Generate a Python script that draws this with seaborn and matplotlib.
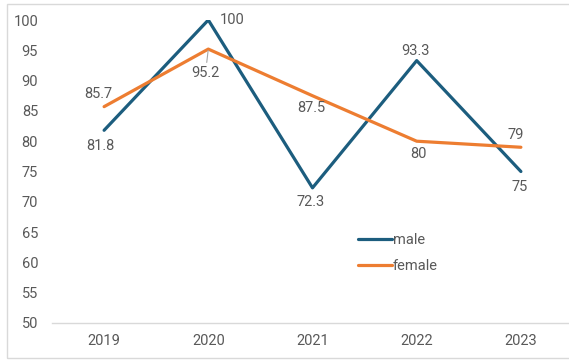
import matplotlib
matplotlib.use("Agg")
import matplotlib.pyplot as plt
from matplotlib.patches import Rectangle
import seaborn as sns
import pandas as pd

years = ["2019", "2020", "2021", "2022", "2023"]
male = [81.8, 100, 72.3, 93.3, 75]
female = [85.7, 95.2, 87.5, 80, 79]
series_names = ["male", "female"]
y_ticks = [50, 55, 60, 65, 70, 75, 80, 85, 90, 95, 100]

colors = {"male": "#1c5d7e", "female": "#ed7d31"}
text_color = "#595959"
font_size = 10.5

# label offsets (points) relative to each data point
male_offsets = [(-3, -11), (17, 0), (-1, -10), (-1, 7), (-1, -11)]
female_offsets = [(-4, 9), (-2, -17), (-1, -9), (1, -9), (-4, 9)]

sns.set_theme(style="white")
plt.rcParams["font.family"] = ["Roboto", "DejaVu Sans"]

df = pd.DataFrame({
    "year": years * 2,
    "value": male + female,
    "series": [series_names[0]] * len(years) + [series_names[1]] * len(years),
})

fig = plt.figure(figsize=(5.69, 3.6), dpi=100)
ax = fig.add_axes([52 / 569, 37 / 360, 521 / 569, 303 / 360])

sns.lineplot(data=df, x="year", y="value", hue="series", palette=colors,
             linewidth=2.3, ax=ax, sort=False)

ax.set_xlim(-0.5, len(years) - 0.5)
ax.set_ylim(50, 100)
ax.set_yticks(y_ticks)
ax.set_xlabel("")
ax.set_ylabel("")
ax.tick_params(axis="both", length=0, labelsize=font_size, labelcolor=text_color)
ax.tick_params(axis="y", pad=10)
ax.tick_params(axis="x", pad=8)
for side in ["top", "right", "left"]:
    ax.spines[side].set_visible(False)
ax.spines["bottom"].set_color("#d9d9d9")
ax.spines["bottom"].set_linewidth(1)
ax.spines["bottom"].set_clip_on(False)

for vals, offs in [(male, male_offsets), (female, female_offsets)]:
    for i, (v, off) in enumerate(zip(vals, offs)):
        label = f"{v:g}"
        if label == "95.2":
            ax.annotate(label, xy=(i, v), xytext=off, textcoords="offset points",
                        ha="center", va="center", fontsize=font_size, color=text_color,
                        arrowprops=dict(arrowstyle="-", color="#a6a6a6", lw=0.8,
                                        shrinkA=0, shrinkB=1))
        else:
            ax.annotate(label, xy=(i, v), xytext=off, textcoords="offset points",
                        ha="center", va="center", fontsize=font_size, color=text_color)

leg = ax.legend(loc="upper left", bbox_to_anchor=(358 / 569, 1 - 233 / 360),
                bbox_transform=fig.transFigure, frameon=False, fontsize=font_size,
                handlelength=2.3, handletextpad=0.1, labelspacing=0.85,
                borderpad=0, borderaxespad=0)
for t in leg.get_texts():
    t.set_color(text_color)
for h in leg.get_lines():
    h.set_linewidth(2.3)

fig.patches.append(Rectangle((7 / 569, 2 / 360), 1.2, 354 / 360,
                             transform=fig.transFigure, fill=False,
                             edgecolor="#d9d9d9", linewidth=1))

fig.savefig("out.png", dpi=100)
